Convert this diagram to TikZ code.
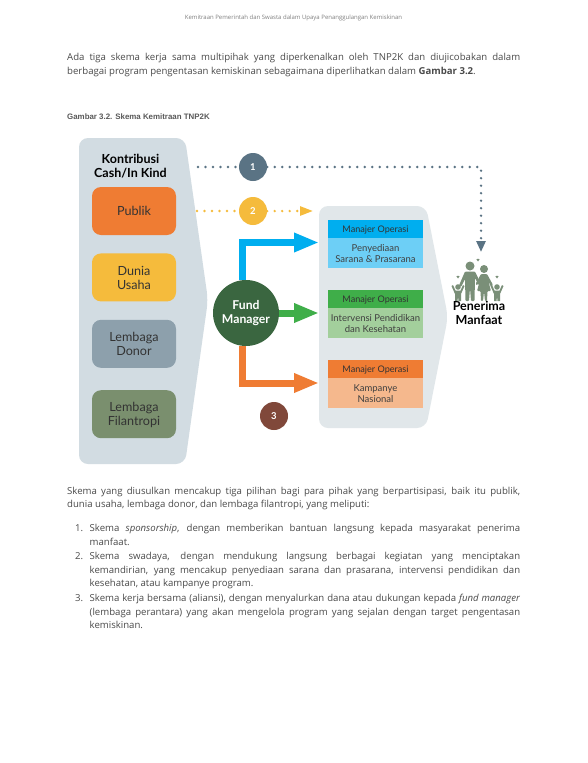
\documentclass[tikz,border=0pt]{standalone}
\usepackage{xcolor}
\usepackage{fontspec}
\setmainfont{Open Sans}
\newfontfamily\labelfont{Lato}
\newfontfamily\capfont{Liberation Sans}
\usetikzlibrary{arrows.meta, positioning}

\definecolor{panelgrey}{HTML}{D2DCE2}
\definecolor{panellight}{HTML}{E1E7EA}
\definecolor{publikorange}{HTML}{EF7C33}
\definecolor{usahayellow}{HTML}{F5BB3C}
\definecolor{donorgrey}{HTML}{8DA0AC}
\definecolor{filantropigreen}{HTML}{7A8F6E}
\definecolor{fundgreen}{HTML}{3A6640}
\definecolor{slateblue}{HTML}{5A7384}
\definecolor{brownred}{HTML}{80483A}
\definecolor{skyblue}{HTML}{00AEEF}
\definecolor{skylight}{HTML}{6DCFF6}
\definecolor{leafgreen}{HTML}{3FAE49}
\definecolor{leaflight}{HTML}{A3CF9C}
\definecolor{orangelight}{HTML}{F5B88D}
\definecolor{bodygrey}{HTML}{4A4A4A}
\definecolor{familygreen}{HTML}{7A8F78}

\begin{document}
\begin{tikzpicture}[
    x=1pt, y=-1pt,
    sourcebox/.style={rectangle, rounded corners=9pt, minimum width=84pt, minimum height=48pt, text depth=-1.5pt, align=center, font=\labelfont\fontsize{12.6}{14}\selectfont, text=black!80},
    numdot/.style={circle, minimum size=28pt, inner sep=0pt, font=\labelfont\bfseries\fontsize{9.5}{11}\selectfont, text=white},
    headbox/.style={rectangle, minimum width=95pt, minimum height=18pt, inner sep=0pt, text depth=-2pt, font=\labelfont\fontsize{9.1}{10}\selectfont, text=black!80},
    bodybox/.style={rectangle, minimum width=95pt, minimum height=30pt, inner sep=0pt, align=center, font=\labelfont\fontsize{9.5}{11}\selectfont, text=black!75},
    title/.style={align=center, font=\labelfont\bfseries\fontsize{12.5}{14}\selectfont, text=black},
    para/.style={anchor=north west, inner sep=0pt, text width=453pt, align=justify, font=\fontsize{9.6}{13.8}\selectfont, text=bodygrey},
    bigarrow/.style={-{Triangle[length=25pt, width=18pt]}, line width=7pt},
    dotline/.style={line width=2.6pt, line cap=round, dash pattern=on 0pt off 7.5pt}
]
\useasboundingbox (0,0) rectangle (587,763);
\fill[white] (0,0) rectangle (587,763);

% Page text
\node[font=\fontsize{6}{7}\selectfont, text=black!50] (pagehead) at (293.5,18) {Kemitraan Pemerintah dan Swasta dalam Upaya Penanggulangan Kemiskinan};
\node[para] (intro) at (67,53) {Ada tiga skema kerja sama multipihak yang diperkenalkan oleh TNP2K dan diujicobakan dalam\linebreak berbagai program pengentasan kemiskinan sebagaimana diperlihatkan dalam \textbf{Gambar 3.2}.};
\node[anchor=west, inner sep=0pt, font=\capfont\bfseries\fontsize{7.9}{8}\selectfont, text=black!65] (caption) at (67,117) {Gambar 3.2. Skema Kemitraan TNP2K};

% Panels
\fill[panelgrey, rounded corners=9pt] (79,138) -- (185,138) -- (208,300) -- (185,464) -- (79,464) -- cycle;
\fill[panellight, rounded corners=9pt] (319,206) -- (426,206) -- (448,317) -- (426,428) -- (319,428) -- cycle;

% Sources
\node[title] (kontribusi) at (130.5,166.5) {Kontribusi\\Cash/In Kind};
\node[sourcebox, fill=publikorange] (publik) at (134,211) {Publik};
\node[sourcebox, fill=usahayellow, below=18pt of publik] (usaha) {Dunia\\Usaha};
\node[sourcebox, fill=donorgrey, below=18pt of usaha] (donor) {Lembaga\\Donor};
\node[sourcebox, fill=filantropigreen, below=22pt of donor] (filantropi) {Lembaga\\Filantropi};

% Managers
\node[headbox, fill=skyblue] (headone) at (375.5,229) {Manajer Operasi};
\node[bodybox, fill=skylight, below=0pt of headone] (bodyone) {Penyediaan\\Sarana \& Prasarana};
\node[headbox, fill=leafgreen] (headtwo) at (375.5,299) {Manajer Operasi};
\node[bodybox, fill=leaflight, below=0pt of headtwo] (bodytwo) {Intervensi Pendidikan\\dan Kesehatan};
\node[headbox, fill=publikorange] (headthree) at (375.5,369) {Manajer Operasi};
\node[bodybox, fill=orangelight, below=0pt of headthree] (bodythree) {Kampanye\\Nasional};

% Fund manager and numbers
\node[circle, fill=fundgreen, minimum size=66pt, inner sep=0pt, align=center, text=white, font=\labelfont\bfseries\fontsize{12.2}{14}\selectfont] (fund) at (246,313) {Fund\\Manager};
\node[numdot, fill=slateblue] (one) at (253,167) {1};
\node[numdot, fill=usahayellow] (two) at (253,211) {2};
\node[numdot, fill=brownred] (three) at (274,416) {3};

% Family
\fill[familygreen] (470,266) circle (4.5);
\fill[familygreen, rounded corners=1pt] (465,271.5) -- (475,271.5) -- (481,284) -- (479,285.5) -- (475,278) -- (474.5,301) -- (471,301) -- (470,288) -- (469,301) -- (465.5,301) -- (465,279) -- (461,287) -- (459,285.5) -- cycle;
\fill[familygreen] (484,269) circle (4);
\fill[familygreen, rounded corners=1pt] (481,274) -- (487,274) -- (493,285) -- (491,287) -- (488,280) -- (491,291) -- (487.5,291) -- (487,301) -- (485,301) -- (484,291.5) -- (483,301) -- (481,301) -- (480.5,291) -- (477,291) -- (480,280) -- (477,285.5) -- (475.5,284) -- cycle;
\foreach \kx in {0,39}{
  \fill[familygreen, xshift=\kx] (458,287) circle (2.8);
  \fill[familygreen, xshift=\kx] (455.5,290.5) -- (460.5,290.5) -- (463,285) -- (464.5,286) -- (461,294) -- (461,301) -- (458.5,301) -- (458,296) -- (457.5,301) -- (455,301) -- (455,294) -- (451.5,286) -- (453,285) -- cycle;
}
\foreach \hx/\hy in {478/260, 458/277, 497/277}{
  \fill[familygreen, shift={(\hx,\hy)}] (-1.6,-.8) -- (0,1.5) -- (1.6,-.8) -- (0,-1.2) -- cycle;
}
\node[title] (penerima) at (479,313) {Penerima\\Manfaat};

% Arrows
\coordinate (blueend) at (319,242.5);
\coordinate (greenend) at (319,313);
\coordinate (orangeend) at (319,383);
\coordinate (dotcorner) at (481,167);
\coordinate (dotstart) at (198,167);
\coordinate (dotend) at (481,252);
\coordinate (midstart) at (197,211);
\coordinate (midend) at (313,211);
\draw[bigarrow, draw=skyblue] (fund.96) |- (blueend);
\draw[bigarrow, draw=leafgreen] (fund.east) -- (greenend);
\draw[bigarrow, draw=publikorange] (fund.264) |- (orangeend);

% Dotted lines
\draw[dotline, draw=slateblue] (dotstart) -- (one);
\draw[dotline, draw=slateblue, -{Triangle[length=11pt, width=9pt]}] (one) -- (dotcorner) -- (dotend);
\draw[dotline, draw=usahayellow] (midstart) -- (two);
\draw[dotline, draw=usahayellow, -{Triangle[length=13pt, width=9pt]}] (two) -- (midend);

% Page text below
\node[para] (scheme) at (67,486.5) {Skema yang diusulkan mencakup tiga pilihan bagi para pihak yang berpartisipasi, baik itu publik,\linebreak dunia usaha, lembaga donor, dan lembaga filantropi, yang meliputi:};
\node[para, text width=430.5pt] (itemone) at (89.5,521.5) {\strut Skema \textit{sponsorship}, dengan memberikan bantuan langsung kepada masyarakat penerima\linebreak manfaat.};
\node[para, text width=430.5pt] (itemtwo) at (89.5,549.5) {\strut Skema swadaya, dengan mendukung langsung berbagai kegiatan yang menciptakan\linebreak kemandirian, yang mencakup penyediaan sarana dan prasarana, intervensi pendidikan dan\linebreak kesehatan, atau kampanye program.};
\node[para, text width=430.5pt] (itemthree) at (89.5,591.5) {\strut Skema kerja bersama (aliansi), dengan menyalurkan dana atau dukungan kepada \textit{fund manager}\linebreak (lembaga perantara) yang akan mengelola program yang sejalan dengan target pengentasan\linebreak kemiskinan.};
\node[para, text width=12pt, align=left] (numone) at (75,521.5) {\strut 1.};
\node[para, text width=12pt, align=left] (numtwo) at (75,549.5) {\strut 2.};
\node[para, text width=12pt, align=left] (numthree) at (75,591.5) {\strut 3.};

\end{tikzpicture}
\end{document}
